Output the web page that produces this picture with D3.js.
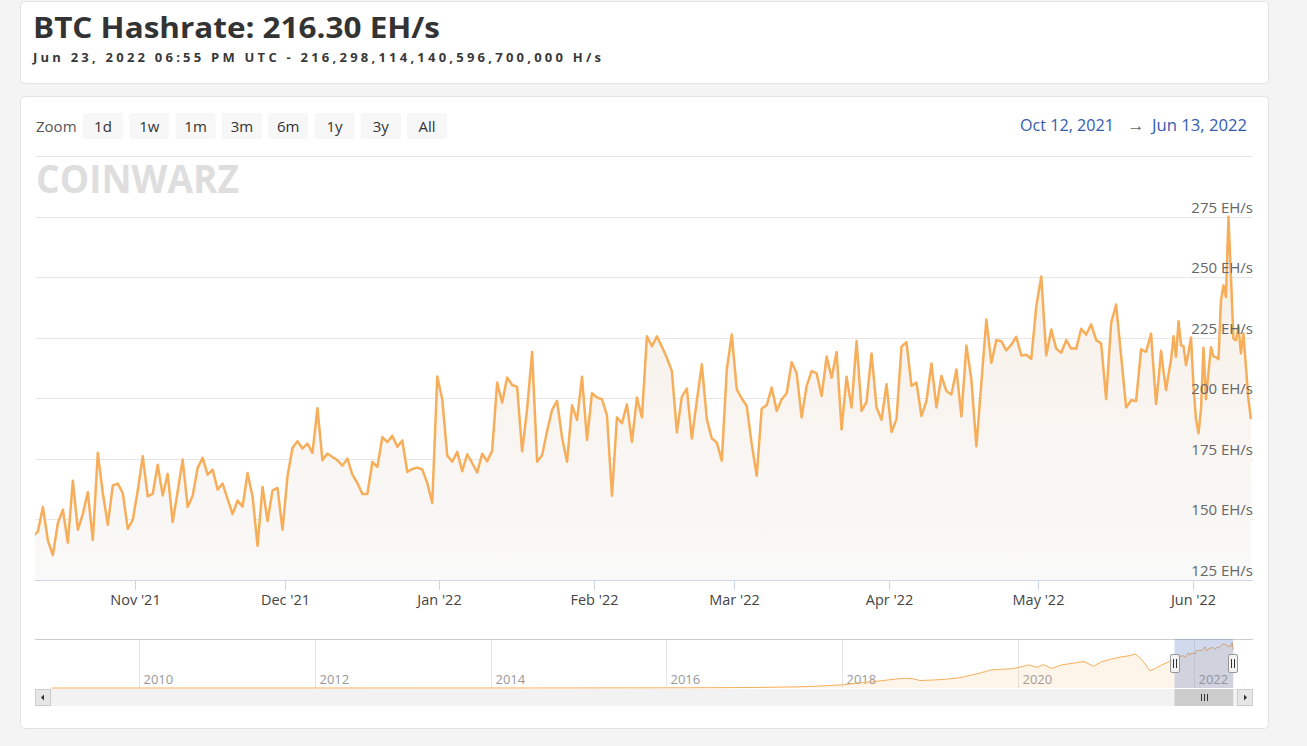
<!DOCTYPE html>
<html><head><meta charset="utf-8">
<script src="https://cdn.jsdelivr.net/npm/d3@7"></script>
<style>
html,body{margin:0;padding:0;background:#f4f4f4;}
svg{display:block;}
text{font-family:"Open Sans",sans-serif;}
</style></head><body>
<svg id="chart" width="1307" height="746"></svg>
<script>
// ---------- DATA ----------
const titleText = "BTC Hashrate: 216.30 EH/s";
const subtitleText = "Jun 23, 2022 06:55 PM UTC - 216,298,114,140,596,700,000 H/s";
const zoomLabel = "Zoom";
const zoomButtons = ["1d","1w","1m","3m","6m","1y","3y","All"];
const rangeFromText = "Oct 12, 2021";
const rangeToText = "Jun 13, 2022";
const logoText = "COINWARZ";

const viewStart = "2021-10-12T00:00:00Z";
const viewEnd = "2022-06-13T00:00:00Z";
const seriesStart = "2021-10-11T14:00:00Z"; // one reading per day

// hashrate, EH/s, one reading per day
const hashrateDaily = [143,
145,155.1,141.3,135.3,148.5,154,140.4,166,145.7,152.3,
161.2,141.5,177.5,160.9,147.8,164,164.8,160.9,146.1,149.8,
162,176.1,159.5,160.5,172.6,159.9,168.8,148.9,161.6,174.7,
155.1,159.8,171.3,175.4,168.5,170.6,162.3,164.8,158.4,152.2,
157.8,155.3,169.2,159.5,139.1,163.4,149.3,162,163,145.7,
167.8,179.6,182.3,179.3,181.3,177.5,195.9,174.4,177.2,175.8,
174.4,172.2,175.1,168.5,165,160.5,160.5,173.7,171.7,184,
181.9,184.5,180,182.6,169.6,170.8,171.4,170.6,165,156.8,
209,199.6,176.4,173.8,177.9,169.9,176.9,173.3,169.4,177.1,
174,178.4,206.5,198.2,208.6,205.5,204.7,178.1,195.5,219.1,
173.8,176.5,186.5,195.2,198.9,183.8,173.8,197.1,191.1,208.9,
182.8,202.1,200.3,199.6,193,159.8,192.1,189.7,197.5,182,
200.3,192.1,225.6,221.5,225.6,221.3,216.7,211.2,185.9,200.7,
204,183.4,198.9,214,191.4,183.4,181.8,174.2,211.9,226.3,
203.7,199.9,196.8,181.1,168,195.8,197.1,204.4,194.8,199.6,
202.1,214.9,210.3,192.1,205.1,211.2,210.3,200.9,217.2,208.5,
219.1,187.2,208.9,196.2,223.6,194.8,198.5,218.5,196.2,191.1,
205.8,186.1,191.4,221.3,223.2,205.1,206.5,192.7,198.9,214.4,
196.2,209.2,203,201.6,211.9,192.5,221.8,207.8,180.1,206.5,
232.5,214.6,224,223.6,219.8,222.2,225.4,217.7,218,216.3,
238,250.3,217.7,228.4,220.5,218.8,224,220.5,220.5,228.7,
226.3,230.5,224,222.6,199.6,231.2,238.7,217.4,196.2,199.2,
198.9,220.2,219.2,226.7];
// hashrate, EH/s, two readings per day after the daily block
const hashrateHalfDay = [
212,197.6,208,219.6,211,203.4,210,216,225.6,217.1,
231.8,221.9,221.5,213.7,219,225.1,205,191.4,185.6,195.5,
220.9,199.6,210.8,221.1,217.2,217,216.1,240.4,246.6,241.8,
275,250,224.7,224,229.7,218.5,226.7,213,199.6,191.4];

const xTickDates = ["2021-11-01","2021-12-01","2022-01-01","2022-02-01","2022-03-01","2022-04-01","2022-05-01","2022-06-01"];
const xTickLabels = ["Nov '21","Dec '21","Jan '22","Feb '22","Mar '22","Apr '22","May '22","Jun '22"];
const yGridValues = [150,175,200,225,250,275,300];
const yLabelValues = [125,150,175,200,225,250,275];
const yLabelTexts = ["125 EH/s","150 EH/s","175 EH/s","200 EH/s","225 EH/s","250 EH/s","275 EH/s"];

// navigator (full history), EH/s
const navHistoryDates = ["2009-01-03","2010-01-01","2012-01-01","2014-01-01","2015-01-01","2016-01-01","2016-07-01","2017-01-01","2017-07-01","2017-10-01","2018-01-01","2018-03-01","2018-05-15","2018-07-15","2018-09-15","2018-10-20","2018-11-20","2019-01-01","2019-03-01","2019-05-01","2019-06-15","2019-08-01","2019-09-10","2019-10-15","2019-12-01","2020-01-01","2020-02-15","2020-03-20","2020-04-15","2020-05-20","2020-07-01","2020-08-20","2020-10-01","2020-11-10","2020-12-15","2021-01-15","2021-03-01","2021-04-10","2021-05-01","2021-05-25","2021-06-20","2021-07-01","2021-07-25","2021-08-20","2021-09-15","2021-10-05"];
const navHistoryValues = [0,0,0,0.01,0.3,0.8,1.5,2.5,6,10,16,25,33,42,50,48,38,40,44,52,64,78,92,95,98,104,118,105,120,100,118,127,135,111,135,145,158,165,174,150,110,88,100,118,132,150];
const navYearTicks = ["2010","2012","2014","2016","2018","2020","2022"];
const navStart = "2008-10-27T00:00:00Z";
const navEnd = "2022-09-03T00:00:00Z";

// ---------- DRAW ----------
const W = 1307, H = 746;
const svg = d3.select("#chart");
const defs = svg.append("defs");

svg.append("rect").attr("width", W).attr("height", H).attr("fill", "#f4f4f4");

// cards
svg.append("rect").attr("x", 20.5).attr("y", 1.5).attr("width", 1248).attr("height", 82).attr("rx", 4)
  .attr("fill", "#fff").attr("stroke", "#e2e2e2");
svg.append("rect").attr("x", 20.5).attr("y", 96.5).attr("width", 1248).attr("height", 632).attr("rx", 4)
  .attr("fill", "#fff").attr("stroke", "#e2e2e2");

// header
svg.append("text").attr("x", 33).attr("y", 38).text(titleText)
  .attr("font-size", 29).attr("font-weight", 700).attr("fill", "#333")
  .attr("textLength", 407).attr("lengthAdjust", "spacingAndGlyphs");
svg.append("text").attr("x", 33).attr("y", 62).text(subtitleText)
  .attr("font-family", "DejaVu Sans").attr("font-size", 13).attr("font-weight", 700).attr("fill", "#383838")
  .attr("textLength", 568).attr("lengthAdjust", "spacing");

// range selector
svg.append("text").attr("x", 36).attr("y", 132).text(zoomLabel)
  .attr("font-size", 15).attr("fill", "#555");
const btnG = svg.append("g");
zoomButtons.forEach((b, i) => {
  const bx = 83 + i * 46.3;
  btnG.append("rect").attr("x", bx).attr("y", 113).attr("width", 40).attr("height", 26).attr("rx", 2).attr("fill", "#f7f7f7");
  btnG.append("text").attr("x", bx + 20).attr("y", 132).attr("text-anchor", "middle").text(b)
    .attr("font-size", 15).attr("fill", "#333");
});
svg.append("text").attr("x", 1020).attr("y", 131).text(rangeFromText)
  .attr("font-size", 16).attr("fill", "#335cad").attr("textLength", 94).attr("lengthAdjust", "spacingAndGlyphs");
svg.append("text").attr("x", 1136).attr("y", 131).attr("text-anchor", "middle").text("→")
  .attr("font-size", 17).attr("fill", "#666");
svg.append("text").attr("x", 1152).attr("y", 131).text(rangeToText)
  .attr("font-size", 16).attr("fill", "#335cad").attr("textLength", 95).attr("lengthAdjust", "spacingAndGlyphs");

// scales
const plotL = 35, plotR = 1253, plotT = 156, plotB = 580;
const x = d3.scaleUtc().domain([new Date(viewStart), new Date(viewEnd)]).range([plotL, plotR]);
const y = d3.scaleLinear().domain([125, 300]).range([plotB, plotT]);
const t0 = new Date(seriesStart);
const dailyData = hashrateDaily.map((v, i) => ({ d: d3.utcDay.offset(t0, i), v }));
const lastDaily = dailyData[dailyData.length - 1].d;
const halfData = hashrateHalfDay.map((v, i) => ({ d: d3.utcHour.offset(lastDaily, 12 * (i + 1)), v }));
const data = dailyData.concat(halfData);

// gridlines
svg.append("g").selectAll("line").data(yGridValues).join("line")
  .attr("x1", plotL).attr("x2", plotR)
  .attr("y1", d => Math.round(y(d)) + 0.5).attr("y2", d => Math.round(y(d)) + 0.5)
  .attr("stroke", "#e6e6e6");

// watermark logo
svg.append("text").attr("x", 36).attr("y", 193).text(logoText)
  .attr("font-family", "DejaVu Sans").attr("font-weight", 700).attr("font-size", 40)
  .attr("fill", "#dedede").attr("textLength", 203).attr("lengthAdjust", "spacingAndGlyphs");

// clip
defs.append("clipPath").attr("id", "plotclip").append("rect")
  .attr("x", plotL).attr("y", plotT - 10).attr("width", plotR - plotL).attr("height", plotB - plotT + 10);

const grad = defs.append("linearGradient").attr("id", "areagrad")
  .attr("gradientUnits", "userSpaceOnUse").attr("x1", 0).attr("x2", 0).attr("y1", 216).attr("y2", 580);
grad.append("stop").attr("offset", 0).attr("stop-color", "#f8efe6");
grad.append("stop").attr("offset", 1).attr("stop-color", "#f9f9f9");

const plotG = svg.append("g").attr("clip-path", "url(#plotclip)");
plotG.append("path").datum(data)
  .attr("d", d3.area().x(d => x(d.d)).y0(plotB).y1(d => y(d.v)))
  .attr("fill", "url(#areagrad)");
plotG.append("path").datum(data)
  .attr("d", d3.line().x(d => x(d.d)).y(d => y(d.v)))
  .attr("fill", "none").attr("stroke", "#f7ae5a").attr("stroke-width", 2.5).attr("stroke-linejoin", "round");

// y labels
svg.append("g").selectAll("text").data(yLabelValues).join("text")
  .attr("x", plotR).attr("y", d => y(d) - 4).attr("text-anchor", "end")
  .attr("font-size", 15).attr("fill", "#666").text((d, i) => yLabelTexts[i]);

// x axis
svg.append("line").attr("x1", plotL).attr("x2", plotR).attr("y1", plotB + 0.5).attr("y2", plotB + 0.5).attr("stroke", "#ccd6eb");
const xt = svg.append("g");
xTickDates.forEach((ds, i) => {
  const tx = Math.round(x(new Date(ds + "T00:00:00Z"))) + 0.5;
  xt.append("line").attr("x1", tx).attr("x2", tx).attr("y1", plotB).attr("y2", plotB + 10).attr("stroke", "#ccd6eb");
  xt.append("text").attr("x", tx).attr("y", 605).attr("text-anchor", "middle").text(xTickLabels[i])
    .attr("font-size", 14.5).attr("fill", "#444");
});

// ---------- navigator ----------
const navT = 639, navB = 688;
const xn = d3.scaleUtc().domain([new Date(navStart), new Date(navEnd)]).range([plotL, plotR]);
const yn = d3.scaleLinear().domain([0, 245]).range([navB, navT + 1]);

// weekly means of main series for the navigator
const weekly = d3.groups(data, d => d3.utcWeek.floor(d.d).getTime()).map(([k, arr]) => ({
  d: arr[Math.floor(arr.length / 2)].d, v: d3.mean(arr, a => a.v)
}));
const navData = navHistoryDates.map((ds, i) => ({ d: new Date(ds + "T00:00:00Z"), v: navHistoryValues[i] }))
  .concat(weekly);

// year grid
const ng = svg.append("g");
navYearTicks.forEach(yr => {
  const gx = Math.round(xn(new Date(yr + "-01-01T00:00:00Z"))) + 0.5;
  ng.append("line").attr("x1", gx).attr("x2", gx).attr("y1", navT).attr("y2", navB).attr("stroke", "#e6e6e6");
  ng.append("text").attr("x", gx + 4).attr("y", 684).text(yr).attr("font-size", 13).attr("fill", "#999");
});
svg.append("path").datum(navData)
  .attr("d", d3.area().x(d => xn(d.d)).y0(navB).y1(d => yn(d.v)))
  .attr("fill", "#f7ae5a").attr("fill-opacity", 0.13);
svg.append("path").datum(navData)
  .attr("d", d3.line().x(d => xn(d.d)).y(d => yn(d.v)))
  .attr("fill", "none").attr("stroke", "#f7ae5a").attr("stroke-width", 1);
svg.append("line").attr("x1", plotL).attr("x2", plotR).attr("y1", navT + 0.5).attr("y2", navT + 0.5).attr("stroke", "#cccccc");

const selL = xn(new Date(viewStart)), selR = xn(new Date(viewEnd));
svg.append("rect").attr("x", selL).attr("y", navT).attr("width", selR - selL).attr("height", navB - navT)
  .attr("fill", "rgba(102,133,194,0.3)");

// scrollbar
const sbT = 689, sbH = 17;
svg.append("rect").attr("x", plotL).attr("y", sbT).attr("width", plotR - plotL).attr("height", sbH).attr("fill", "#f2f2f2");
svg.append("rect").attr("x", selL).attr("y", sbT).attr("width", selR - selL).attr("height", sbH).attr("fill", "#cccccc");
[-2, 0, 2].forEach(o => {
  const gx = Math.round((selL + selR) / 2 + o * 1.5) + 0.5;
  svg.append("line").attr("x1", gx).attr("x2", gx).attr("y1", sbT + 5).attr("y2", sbT + 12).attr("stroke", "#333");
});
[[plotL, -1], [plotR - 16, 1]].forEach(([bx, dir]) => {
  svg.append("rect").attr("x", bx + 0.5).attr("y", sbT + 0.5).attr("width", 15).attr("height", sbH - 1)
    .attr("fill", "#e6e6e6").attr("stroke", "#cccccc");
  const cx = bx + 8, cy = sbT + sbH / 2;
  const pts = dir < 0 ? [[cx - 2, cy], [cx + 1, cy - 3], [cx + 1, cy + 3]] : [[cx + 2, cy], [cx - 1, cy - 3], [cx - 1, cy + 3]];
  svg.append("path").attr("d", "M" + pts.map(p => p.join(",")).join("L") + "Z").attr("fill", "#333");
});

// handles
[selL, selR].forEach(hx => {
  const hg = svg.append("g");
  hg.append("rect").attr("x", Math.round(hx) - 4.5).attr("y", 654.5).attr("width", 9).attr("height", 18).attr("rx", 1.5)
    .attr("fill", "#f2f2f2").attr("stroke", "#999");
  [-1.5, 1.5].forEach(o => {
    hg.append("line").attr("x1", Math.round(hx) + o).attr("x2", Math.round(hx) + o).attr("y1", 659).attr("y2", 668)
      .attr("stroke", "#333");
  });
});
</script>
</body></html>
